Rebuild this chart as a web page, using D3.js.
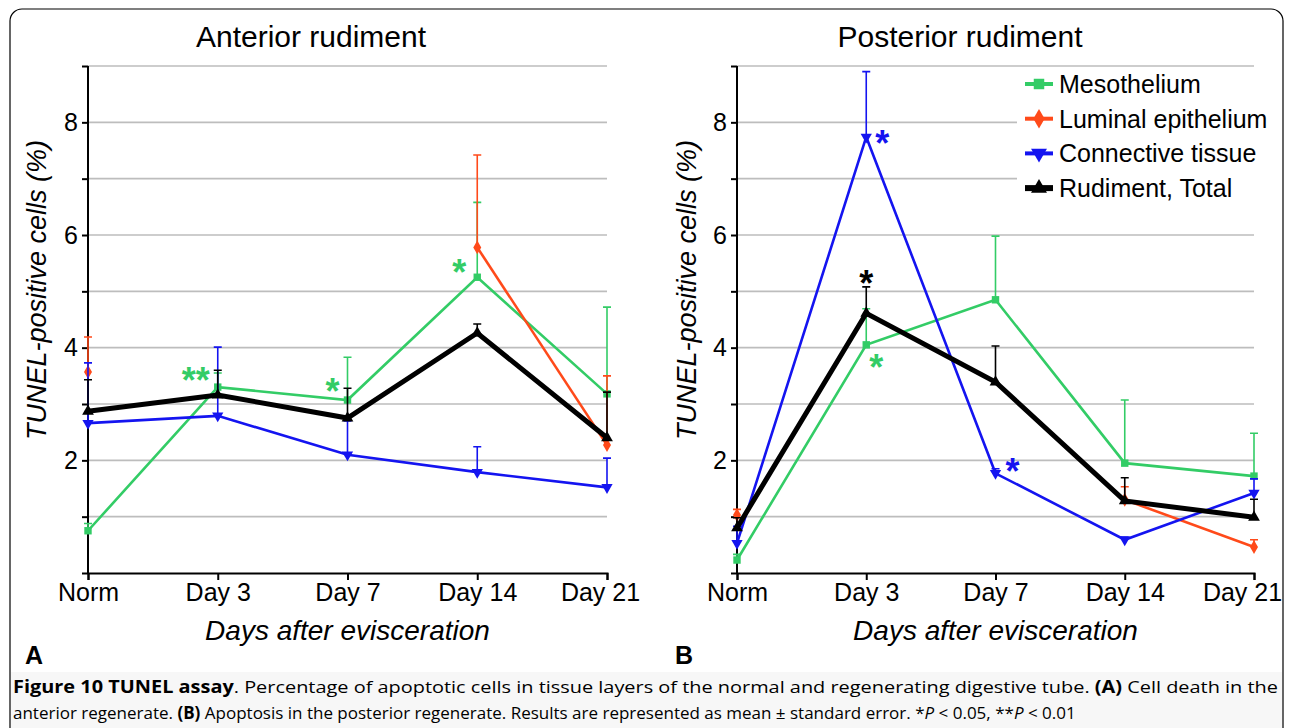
<!DOCTYPE html>
<html>
<head>
<meta charset="utf-8">
<script src="https://cdn.jsdelivr.net/npm/d3@7"></script>
<style>
  body { margin: 0; background: #fff; }
  svg { display: block; font-family: Arial, "Liberation Sans", sans-serif; }
</style>
</head>
<body>
<div id="chart"></div>
<script>
// categories and series
var days = ["Norm", "Day 3", "Day 7", "Day 14", "Day 21"];
var seriesNames = ["Mesothelium", "Luminal epithelium", "Connective tissue", "Rudiment, Total"];
var seriesColors = ["#33cc66", "#ff4a1a", "#1414f0", "#000000"];
var yTicks = [0, 1, 2, 3, 4, 5, 6, 7, 8, 9];
var yLabels = [2, 4, 6, 8];

// (A) anterior rudiment, mean and +SE
var antMeso = [0.75, 3.30, 3.07, 5.25, 3.18];
var antMesoErr = [0.13, 0.25, 0.76, 1.33, 1.54];
var antLum = [3.57, null, null, 5.78, 2.27];
var antLumErr = [0.62, null, null, 1.64, 1.23];
var antConn = [2.66, 2.79, 2.10, 1.79, 1.52];
var antConnErr = [1.07, 1.22, 0.60, 0.45, 0.52];
var antTotal = [2.87, 3.16, 2.75, 4.26, 2.40];
var antTotalErr = [0.56, 0.44, 0.53, 0.16, 0.81];

// (B) posterior rudiment, mean and +SE
var postMeso = [0.23, 4.05, 4.85, 1.95, 1.72];
var postMesoErr = [0.10, 0.64, 1.13, 1.12, 0.76];
var postLum = [1.03, null, null, 1.30, 0.46];
var postLumErr = [0.10, null, null, 0.23, 0.13];
var postConn = [0.53, 7.74, 1.77, 0.59, 1.42];
var postConnErr = [0.30, 1.16, 0.08, 0.05, 0.25];
var postTotal = [0.80, 4.61, 3.39, 1.28, 0.99];
var postTotalErr = [0.18, 0.47, 0.64, 0.41, 0.32];

// significance marks: series index, day, text
var antStars = [
  { s: 0, day: "Day 3", text: "**", dx: -22, dy: -14 },
  { s: 0, day: "Day 7", text: "*", dx: -15, dy: -16 },
  { s: 0, day: "Day 14", text: "*", dx: -18, dy: -12 }
];
var postStars = [
  { s: 2, day: "Day 3", text: "*", dx: 16, dy: -1 },
  { s: 3, day: "Day 3", text: "*", dx: 0, dy: -37 },
  { s: 0, day: "Day 3", text: "*", dx: 10, dy: 15 },
  { s: 2, day: "Day 7", text: "*", dx: 17, dy: -9 }
];

var W = 1290, H = 728;
var svg = d3.select("#chart").append("svg")
    .attr("width", W)
    .attr("height", H);

svg.append("rect").attr("width", W).attr("height", H).attr("fill", "#fff");

// frame round the figure
svg.append("rect")
    .attr("x", 10).attr("y", 9)
    .attr("width", 1273).attr("height", 740)
    .attr("rx", 12)
    .attr("fill", "none")
    .attr("stroke", "#000")
    .attr("stroke-width", 1.2);

var symbols = [d3.symbolSquare, d3.symbolDiamond, d3.symbolTriangle, d3.symbolTriangle];
var symRot = [0, 0, 180, 0];

function drawPanel(cfg) {
  var x = d3.scalePoint().domain(days).range([cfg.x0, cfg.x1]);
  var y = d3.scaleLinear().domain([0, 9]).range([573, 66]);
  var g = svg.append("g");

  // grid
  g.selectAll(".grid")
      .data(yTicks.slice(1))
      .enter().append("line")
      .attr("x1", cfg.x0).attr("x2", cfg.x1)
      .attr("y1", d => y(d)).attr("y2", d => y(d))
      .attr("stroke", "#bdbdbd")
      .attr("stroke-width", 1.6);

  // legend box hides grid behind it
  if (cfg.legend) {
    g.append("rect")
        .attr("x", 1017).attr("y", 68)
        .attr("width", cfg.x1 - 1017 + 2).attr("height", 137)
        .attr("fill", "#fff");
  }

  // axes
  var yAxis = d3.axisLeft(y).tickValues(yTicks).tickSize(6).tickPadding(4)
      .tickFormat(d => yLabels.indexOf(d) >= 0 ? d : "");
  var ya = g.append("g").attr("transform", "translate(" + cfg.x0 + ",0)").call(yAxis);
  var xAxis = d3.axisBottom(x).tickSize(7).tickPadding(3);
  var xa = g.append("g").attr("transform", "translate(0,573)").call(xAxis);
  [ya, xa].forEach(function (a) {
    a.select(".domain").attr("stroke", "#000").attr("stroke-width", 2);
    a.selectAll(".tick line").attr("stroke", "#000").attr("stroke-width", 2);
    a.selectAll("text").attr("font-family", "Arial, 'Liberation Sans', sans-serif")
        .attr("font-size", 25).attr("fill", "#000");
  });
  ya.select(".domain").attr("d", "M0," + y(0) + "V" + y(9));
  xa.selectAll("text")
      .attr("dy", "0.71em")
      .attr("dx", d => d === days[days.length - 1] ? cfg.lastDx : 0);

  // series
  var line = d3.line()
      .defined(d => d.v != null)
      .x(d => x(d.day))
      .y(d => y(d.v));

  cfg.series.forEach(function (vals, i) {
    var pts = days.map((d, k) => ({ day: d, v: vals[k], e: cfg.errors[i][k] }));
    var col = seriesColors[i];
    var sg = g.append("g");
    sg.selectAll(".err")
        .data(pts.filter(d => d.v != null))
        .enter().append("path")
        .attr("d", d => "M" + x(d.day) + "," + y(d.v) + "V" + y(d.v + d.e) +
            "M" + (x(d.day) - 4) + "," + y(d.v + d.e) + "H" + (x(d.day) + 4))
        .attr("fill", "none")
        .attr("stroke", col)
        .attr("stroke-width", 1.6);
    sg.append("path")
        .datum(pts)
        .attr("d", line)
        .attr("fill", "none")
        .attr("stroke", col)
        .attr("stroke-width", i === 3 ? 5 : 2.6)
        .attr("stroke-linejoin", "miter");
    sg.selectAll(".pt")
        .data(pts.filter(d => d.v != null))
        .enter().append("path")
        .attr("d", d3.symbol().type(symbols[i]).size(i === 3 ? 60 : 55))
        .attr("transform", d => "translate(" + x(d.day) + "," + y(d.v) + ") rotate(" + symRot[i] + ")")
        .attr("fill", col);
  });

  // asterisks
  g.selectAll(".star")
      .data(cfg.stars)
      .enter().append("text")
      .attr("x", d => x(d.day) + d.dx)
      .attr("y", d => y(cfg.series[d.s][days.indexOf(d.day)]) + d.dy + 20)
      .attr("text-anchor", "middle")
      .attr("font-size", 36)
      .attr("font-weight", "bold")
      .attr("fill", d => seriesColors[d.s])
      .text(d => d.text);

  // titles
  g.append("text")
      .attr("x", cfg.titleX).attr("y", 47)
      .attr("text-anchor", "middle")
      .attr("font-size", 30)
      .text(cfg.title);
  g.append("text")
      .attr("transform", "translate(" + cfg.yLabelX + ",290) rotate(-90)")
      .attr("text-anchor", "middle")
      .attr("font-size", 27)
      .attr("font-style", "italic")
      .text("TUNEL-positive cells (%)");
  g.append("text")
      .attr("x", (cfg.x0 + cfg.x1) / 2).attr("y", 640)
      .attr("text-anchor", "middle")
      .attr("font-size", 28)
      .attr("font-style", "italic")
      .text("Days after evisceration");
  g.append("text")
      .attr("x", cfg.letterX).attr("y", 664)
      .attr("font-size", 25)
      .attr("font-weight", "bold")
      .text(cfg.letter);

  // legend
  if (cfg.legend) {
    var lg = g.selectAll(".leg")
        .data(seriesNames)
        .enter().append("g")
        .attr("transform", (d, i) => "translate(1025," + (84 + i * 34.7) + ")");
    lg.append("line")
        .attr("x1", 0).attr("x2", 28)
        .attr("stroke", (d, i) => seriesColors[i])
        .attr("stroke-width", (d, i) => i === 3 ? 6 : 4);
    lg.append("path")
        .attr("d", (d, i) => d3.symbol().type(symbols[i]).size(110)())
        .attr("transform", (d, i) => "translate(14,0) rotate(" + symRot[i] + ")")
        .attr("fill", (d, i) => seriesColors[i]);
    lg.append("text")
        .attr("x", 34).attr("dy", "0.36em")
        .attr("font-size", 25)
        .text(d => d);
  }
}

drawPanel({
  x0: 88, x1: 607, title: "Anterior rudiment", titleX: 311, yLabelX: 46, letter: "A", letterX: 25,
  lastDx: -7,
  series: [antMeso, antLum, antConn, antTotal],
  errors: [antMesoErr, antLumErr, antConnErr, antTotalErr],
  stars: antStars, legend: false
});
drawPanel({
  x0: 737, x1: 1254, title: "Posterior rudiment", titleX: 960, yLabelX: 696, letter: "B", letterX: 675,
  lastDx: -12,
  series: [postMeso, postLum, postConn, postTotal],
  errors: [postMesoErr, postLumErr, postConnErr, postTotalErr],
  stars: postStars, legend: true
});

// caption
svg.append("rect")
    .attr("x", 11).attr("y", 672)
    .attr("width", 1271).attr("height", 60)
    .attr("fill", "#f7f7f7");

var cap1 = svg.append("text")
    .attr("x", 13).attr("y", 693)
    .attr("font-family", "'Open Sans', sans-serif")
    .attr("font-size", 17)
    .attr("textLength", 1265)
    .attr("lengthAdjust", "spacingAndGlyphs");
cap1.append("tspan").attr("font-weight", "bold").text("Figure 10 TUNEL assay");
cap1.append("tspan").text(". Percentage of apoptotic cells in tissue layers of the normal and regenerating digestive tube. ");
cap1.append("tspan").attr("font-weight", "bold").text("(A)");
cap1.append("tspan").text(" Cell death in the");

var cap2 = svg.append("text")
    .attr("x", 13).attr("y", 719)
    .attr("font-family", "'Open Sans', sans-serif")
    .attr("font-size", 17);
cap2.append("tspan").text("anterior regenerate. ");
cap2.append("tspan").attr("font-weight", "bold").text("(B)");
cap2.append("tspan").text(" Apoptosis in the posterior regenerate. Results are represented as mean \u00b1 standard error. *");
cap2.append("tspan").attr("font-style", "italic").text("P");
cap2.append("tspan").text(" < 0.05, **");
cap2.append("tspan").attr("font-style", "italic").text("P");
cap2.append("tspan").text(" < 0.01");
</script>
</body>
</html>
